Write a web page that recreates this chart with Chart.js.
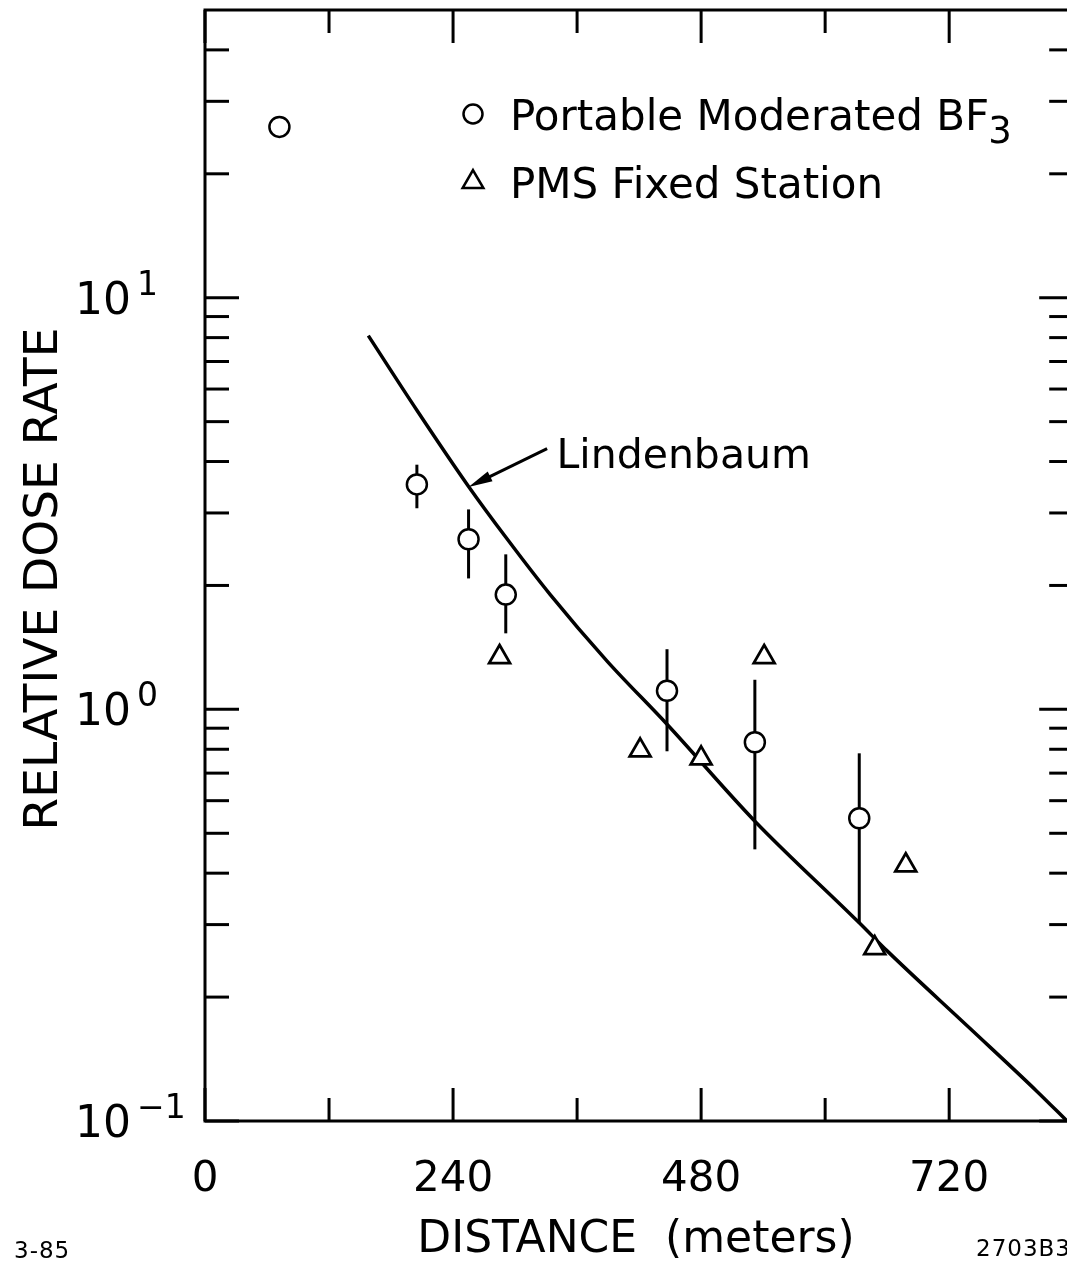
<!DOCTYPE html>
<html><head><meta charset="utf-8">
<style>html,body{margin:0;padding:0;overflow:hidden;background:#fff;}canvas{display:block;}</style>
<script src="https://cdn.jsdelivr.net/npm/chart.js@4.4.1/dist/chart.umd.min.js"></script>
</head><body>
<canvas id="c" width="1067" height="1263" style="width:1067px;height:1263px"></canvas>
<script>
// ---- data ----
const bf3Distance = [72, 205, 255, 291, 447, 532, 633];
const bf3Dose     = [26, 3.52, 2.59, 1.90, 1.11, 0.832, 0.544];
const bf3ErrLow   = [null, 3.08, 2.08, 1.53, 0.791, 0.457, 0.302];
const bf3ErrHigh  = [null, 3.93, 3.06, 2.38, 1.40, 1.18, 0.782];
const pmsDistance = [285, 421, 480, 541, 648, 678];
const pmsDose     = [1.34, 0.795, 0.760, 1.34, 0.263, 0.418];
const lindenDistance = [158, 205, 255, 292, 334, 389, 447, 532, 633, 660, 740, 805, 834];
const lindenDose     = [8.09, 5.33, 3.48, 2.60, 1.90, 1.31, 0.920, 0.535, 0.303, 0.259, 0.168, 0.118, 0.100];
const xLabelValues = [0, 240, 480, 720];
const xMajorTicks = [0, 240, 480, 720, 840];
const xMinorTicks = [120, 360, 600];
const xFrameEnd = 840;
const yMajorTicks = [0.1, 1, 10];
const yMinorTicks = [0.2,0.3,0.4,0.5,0.6,0.7,0.8,0.9,2,3,4,5,6,7,8,9,20,30,40];
const yLabelValues = [0.1, 1, 10];
const yLabelExponents = ['\u22121', '0', '1'];
const legendLabels = ['Portable Moderated BF', 'PMS Fixed Station'];
const curveLabel = 'Lindenbaum';
const curveLabelAnchor = [340, 3.85];
const curveArrowTail = [331, 4.30];
const curveArrowTip = [255, 3.47];

const FONT = "'DejaVu Sans', sans-serif";
const toXY = (xs, ys) => xs.map((v, i) => ({x: v, y: ys[i]}));

const decor = {
  id: 'decor',
  beforeDatasetsDraw(chart) {
    const {ctx, chartArea: a, scales: {x, y}} = chart;
    const seg = (x1, y1, x2, y2) => { ctx.beginPath(); ctx.moveTo(x1, y1); ctx.lineTo(x2, y2); ctx.stroke(); };
    const R = x.getPixelForValue(xFrameEnd);
    ctx.save();
    ctx.strokeStyle = '#000';
    ctx.lineWidth = 3;
    ctx.strokeRect(a.left, a.top, R - a.left, a.bottom - a.top);
    xMajorTicks.forEach(v => { const p = x.getPixelForValue(v); seg(p, a.bottom, p, a.bottom - 33); seg(p, a.top, p, a.top + 33); });
    xMinorTicks.forEach(v => { const p = x.getPixelForValue(v); seg(p, a.bottom, p, a.bottom - 23); seg(p, a.top, p, a.top + 23); });
    yMajorTicks.forEach(v => { const p = y.getPixelForValue(v); seg(a.left, p, a.left + 34, p); seg(R, p, R - 34, p); });
    yMinorTicks.forEach(v => { const p = y.getPixelForValue(v); seg(a.left, p, a.left + 24, p); seg(R, p, R - 24, p); });
    // error bars
    ctx.lineWidth = 3;
    bf3Distance.forEach((d, i) => {
      if (bf3ErrLow[i] == null) return;
      const p = x.getPixelForValue(d);
      seg(p, y.getPixelForValue(bf3ErrHigh[i]), p, y.getPixelForValue(bf3ErrLow[i]));
    });
    ctx.restore();
  },
  afterDatasetsDraw(chart) {
    const {ctx, chartArea: a, scales: {x, y}} = chart;
    ctx.save();
    ctx.fillStyle = '#000';
    ctx.strokeStyle = '#000';
    // y tick labels with superscripts
    yLabelValues.forEach((v, i) => {
      const p = y.getPixelForValue(v);
      ctx.font = '44px ' + FONT;
      ctx.textAlign = 'right';
      ctx.textBaseline = 'alphabetic';
      ctx.fillText('10', 131, p + 16);
      ctx.font = '33px ' + FONT;
      ctx.textAlign = 'left';
      ctx.fillText(yLabelExponents[i], 137, p - 3);
    });
    // y title
    ctx.save();
    ctx.translate(40, 579);
    ctx.rotate(-Math.PI / 2);
    ctx.font = '47px ' + FONT;
    ctx.textAlign = 'center';
    ctx.textBaseline = 'alphabetic';
    ctx.fillText('RELATIVE DOSE RATE', 0, 17);
    ctx.restore();
    // legend
    const lx = a.left + 268, ly1 = a.top + 104, ly2 = a.top + 172;
    ctx.lineWidth = 2.5;
    ctx.beginPath(); ctx.arc(lx, ly1, 9.5, 0, Math.PI * 2); ctx.stroke();
    const r = 12;
    ctx.beginPath();
    ctx.moveTo(lx, ly2 - r);
    ctx.lineTo(lx + r * Math.sin(Math.PI / 3), ly2 + r / 2);
    ctx.lineTo(lx - r * Math.sin(Math.PI / 3), ly2 + r / 2);
    ctx.closePath(); ctx.stroke();
    ctx.font = '42px ' + FONT;
    ctx.textAlign = 'left';
    ctx.textBaseline = 'alphabetic';
    ctx.fillText(legendLabels[0], lx + 37, ly1 + 16);
    const w = ctx.measureText(legendLabels[0]).width;
    ctx.font = '37px ' + FONT;
    ctx.fillText('3', lx + 37 + w - 1, ly1 + 29);
    ctx.font = '42px ' + FONT;
    ctx.fillText(legendLabels[1], lx + 37, ly2 + 16);
    // Lindenbaum annotation
    ctx.font = '41px ' + FONT;
    ctx.fillText(curveLabel, x.getPixelForValue(curveLabelAnchor[0]), y.getPixelForValue(curveLabelAnchor[1]));
    const tx = x.getPixelForValue(curveArrowTip[0]), ty = y.getPixelForValue(curveArrowTip[1]);
    const sx = x.getPixelForValue(curveArrowTail[0]), sy = y.getPixelForValue(curveArrowTail[1]);
    const ang = Math.atan2(ty - sy, tx - sx);
    ctx.lineWidth = 3;
    ctx.beginPath(); ctx.moveTo(sx, sy); ctx.lineTo(tx - 10 * Math.cos(ang), ty - 10 * Math.sin(ang)); ctx.stroke();
    const hl = 24, hw = 5.5;
    ctx.beginPath();
    ctx.moveTo(tx, ty);
    ctx.lineTo(tx - hl * Math.cos(ang) + hw * Math.sin(ang), ty - hl * Math.sin(ang) - hw * Math.cos(ang));
    ctx.lineTo(tx - hl * Math.cos(ang) - hw * Math.sin(ang), ty - hl * Math.sin(ang) + hw * Math.cos(ang));
    ctx.closePath(); ctx.fill();
    // corner codes
    ctx.font = '23px ' + FONT;
    ctx.letterSpacing = '1px';
    ctx.fillText('3-85', 14, 1258);
    ctx.fillText('2703B3', 976, 1256);
    ctx.restore();
  }
};

new Chart(document.getElementById('c'), {
  type: 'scatter',
  data: {
    datasets: [
      { label: 'Portable Moderated BF3', data: toXY(bf3Distance, bf3Dose), pointStyle: 'circle',
        pointRadius: 10, pointBorderWidth: 2.5, borderColor: '#000', backgroundColor: '#fff', pointHoverRadius: 10 },
      { label: 'PMS Fixed Station', data: toXY(pmsDistance, pmsDose), pointStyle: 'triangle',
        pointRadius: 12, pointBorderWidth: 2.8, borderColor: '#000', backgroundColor: '#fff', pointHoverRadius: 12 },
      { label: 'Lindenbaum', data: toXY(lindenDistance, lindenDose), showLine: true, pointRadius: 0,
        borderColor: '#000', borderWidth: 3.5, cubicInterpolationMode: 'monotone', fill: false }
    ]
  },
  options: {
    responsive: false,
    animation: false,
    devicePixelRatio: 1,
    layout: { autoPadding: false, padding: { top: 10, right: 0, left: 0, bottom: 0 } },
    plugins: { legend: { display: false }, tooltip: { enabled: false } },
    events: [],
    scales: {
      x: {
        type: 'linear', min: 0, max: 834,
        grid: { display: false, drawTicks: false, tickLength: 0 },
        border: { display: false },
        afterBuildTicks: s => { s.ticks = xLabelValues.map(v => ({ value: v })); },
        afterFit: s => { s.height = 142; s.paddingLeft = 0; s.paddingRight = 0; },
        ticks: { font: { family: FONT, size: 42 }, color: '#000', padding: 34, maxRotation: 0, autoSkip: false },
        title: { display: true, text: 'DISTANCE  (meters)', color: '#000',
                 font: { family: FONT, size: 44, lineHeight: 1 }, padding: { top: 0, bottom: 0 } }
      },
      y: {
        type: 'logarithmic', min: 0.1, max: 50,
        grid: { display: false, drawTicks: false },
        border: { display: false },
        ticks: { display: false },
        afterFit: s => { s.width = 205; s.paddingTop = 0; s.paddingBottom = 0; }
      }
    }
  },
  plugins: [decor]
});
</script>
</body></html>
